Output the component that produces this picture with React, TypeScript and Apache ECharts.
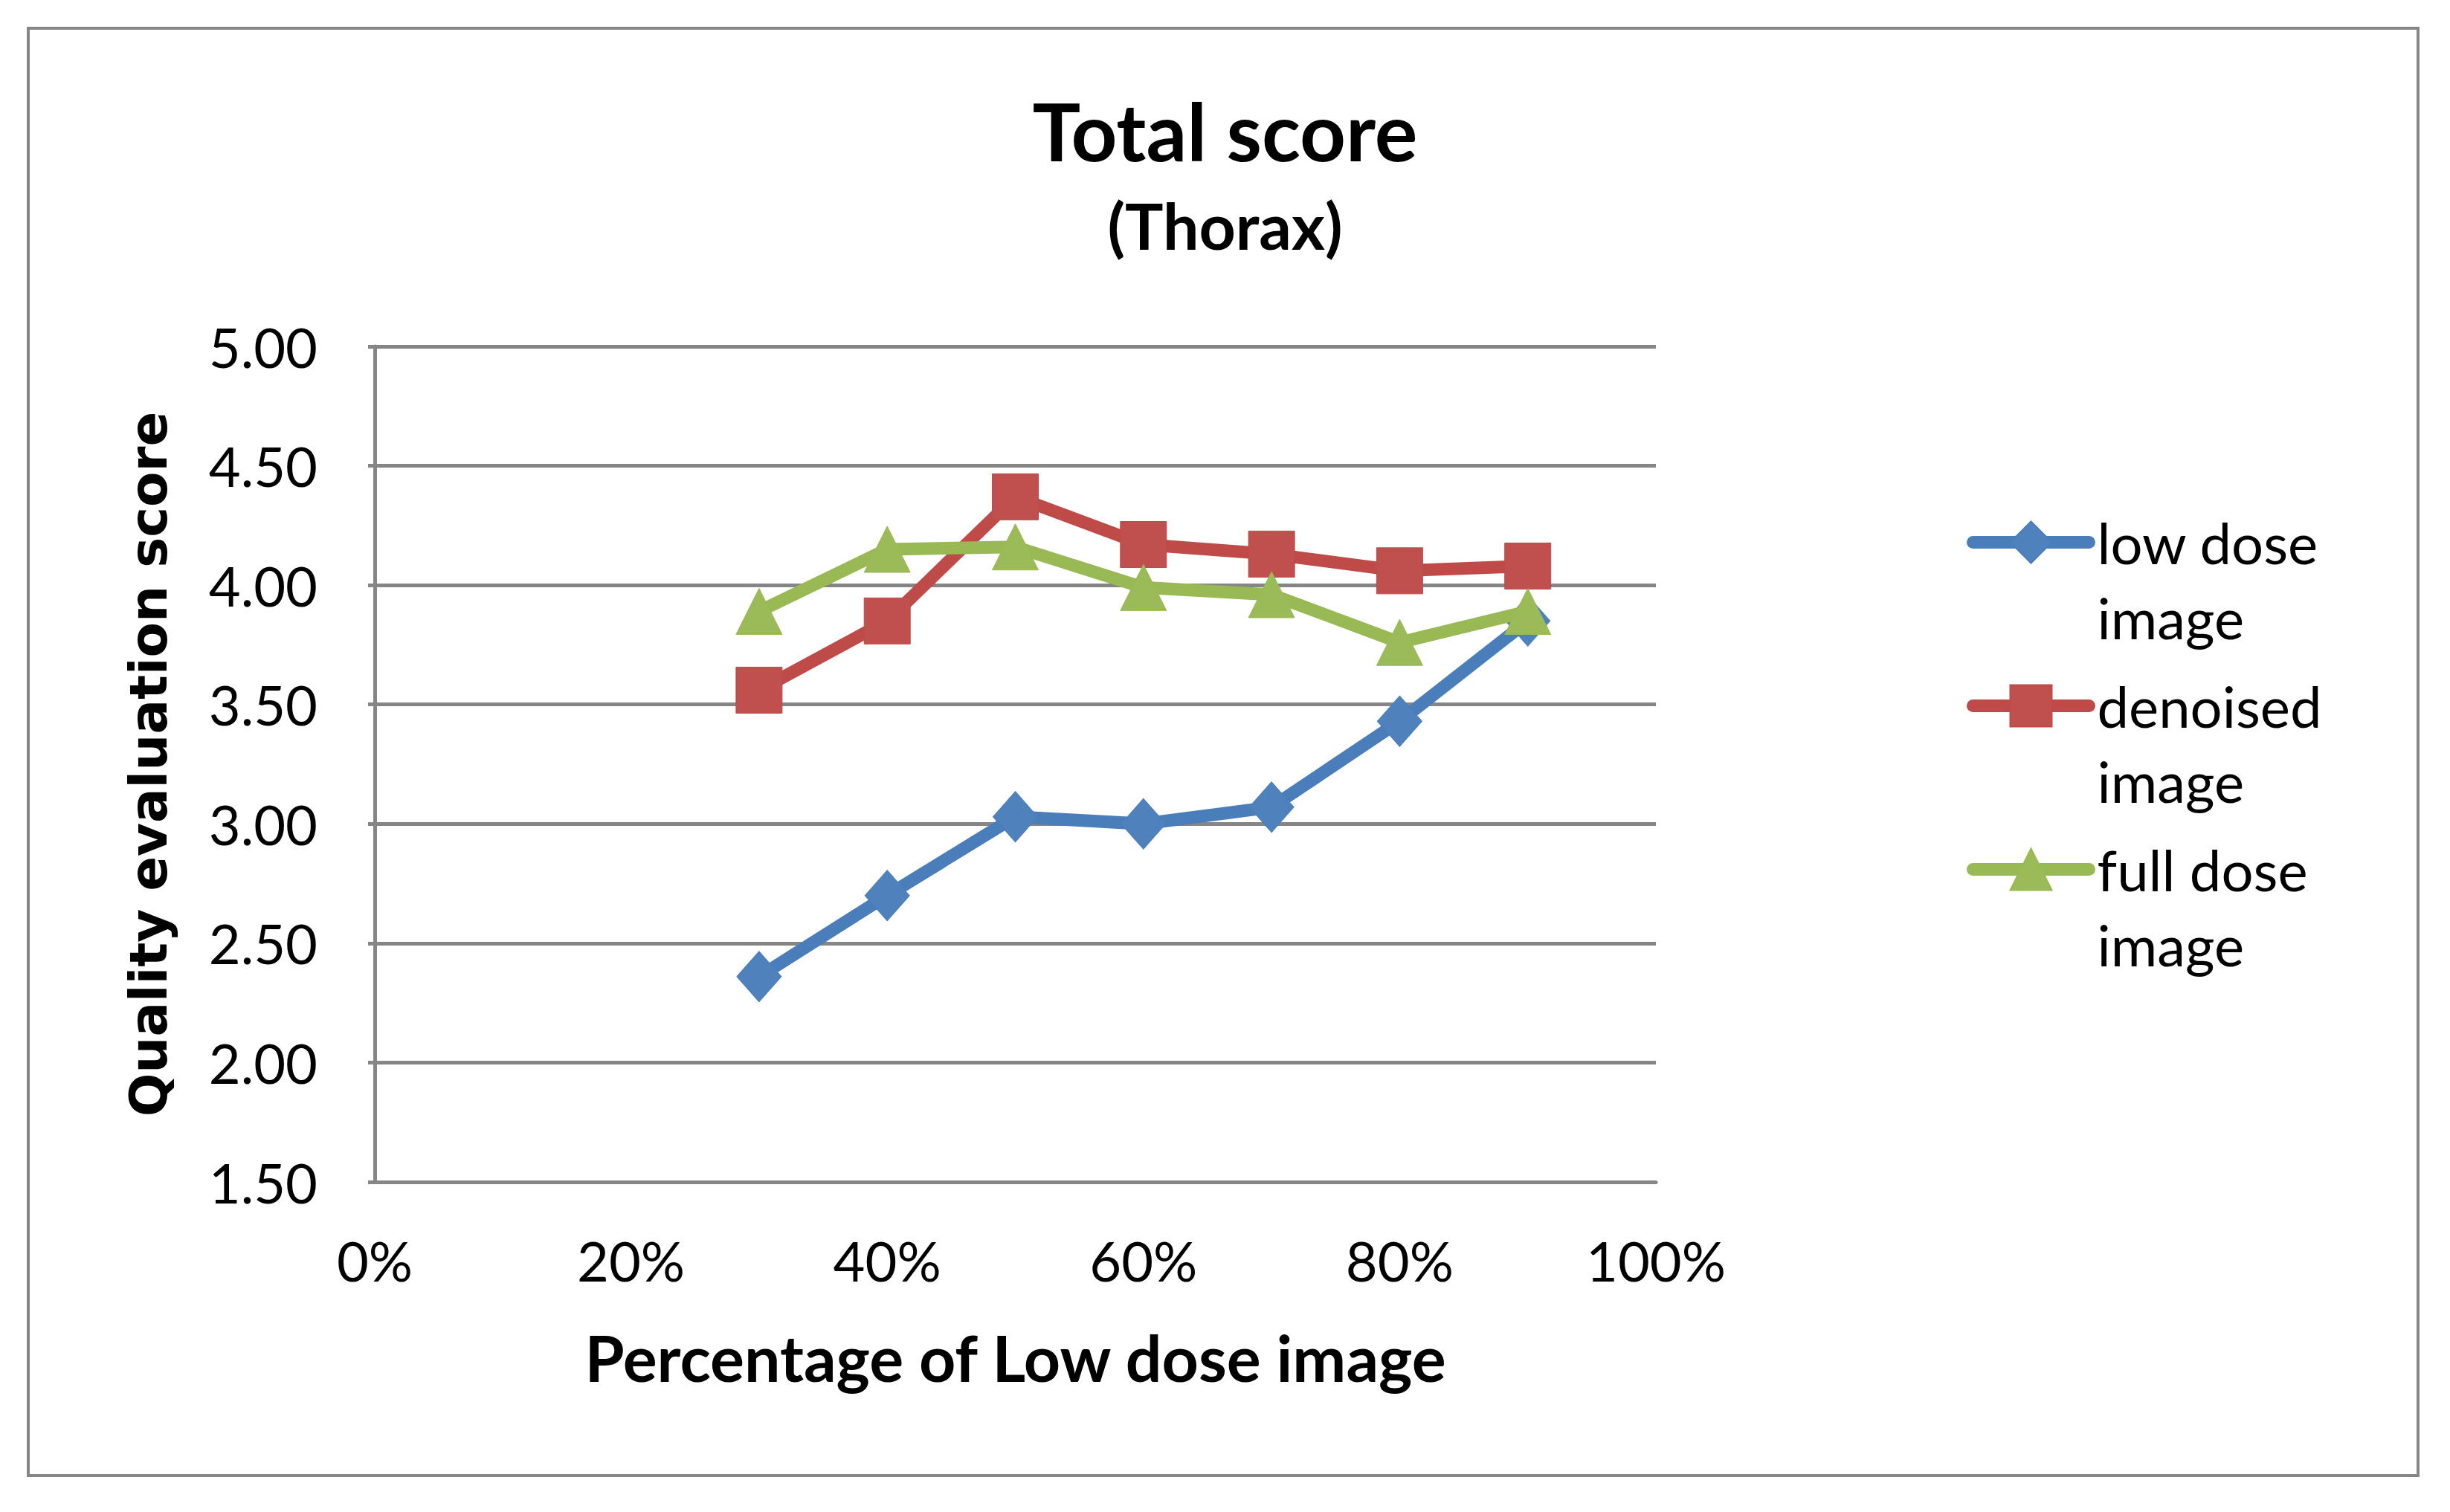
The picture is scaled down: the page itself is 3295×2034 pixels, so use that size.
import React, { useEffect, useRef } from "react";
import * as echarts from "echarts";

const percentages = [0.3, 0.4, 0.5, 0.6, 0.7, 0.8, 0.9];
const lowDose = [2.36, 2.7, 3.03, 3.0, 3.07, 3.43, 3.85];
const denoised = [3.56, 3.85, 4.37, 4.17, 4.13, 4.06, 4.08];
const fullDose = [3.89, 4.15, 4.16, 3.99, 3.96, 3.76, 3.89];
const seriesNames = ["low dose image", "denoised image", "full dose image"];
const seriesColors = ["#4A7EBB", "#BE4B48", "#98B954"];
const markerColors = ["#4F81BD", "#C0504D", "#9BBB59"];
const yTicks = { min: 1.5, max: 5, interval: 0.5 };
const xTicks = { min: 0, max: 1, interval: 0.2 };

const App: React.FC = () => {
  const ref = useRef<HTMLDivElement>(null);
  useEffect(() => {
    document.body.style.margin = "0";
    if (!ref.current) return;
    const chart = echarts.init(ref.current, undefined, { renderer: "svg" });
    const datasets = [lowDose, denoised, fullDose];
    const symbols = ["diamond", "rect", "triangle"];
    const sizes: any[] = [[60, 68], 62, [62, 62]];
    chart.setOption({
      animation: false,
      backgroundColor: "#ffffff",
      title: [
        {
          text: "Total score",
          left: "center",
          top: 121,
          padding: 0,
          textStyle: { fontFamily: "Lato", fontWeight: "bold", fontSize: 108, color: "#000" },
        },
        {
          text: "(Thorax)",
          left: "center",
          top: 259,
          padding: 0,
          textStyle: { fontFamily: "Lato", fontWeight: "bold", fontSize: 86, color: "#000" },
        },
      ],
      graphic: [
        {
          type: "rect",
          shape: { x: 38, y: 38, width: 3214, height: 1947 },
          style: { fill: "none", stroke: "#868686", lineWidth: 4 },
          silent: true,
        },
      ],
      grid: { left: 504, right: 1068, top: 466, bottom: 444, containLabel: false },
      legend: {
        orient: "vertical",
        left: 2645,
        top: 578,
        padding: 0,
        itemWidth: 156,
        itemHeight: 70,
        itemGap: -83,
        data: seriesNames,
        lineStyle: { width: 17, cap: "round" },
        formatter: (name: string) => "\u00a0\n" + name.replace(" image", "\nimage"),
        textStyle: {
          fontFamily: "Lato",
          fontSize: 76,
          lineHeight: 101,
          color: "#000",
          padding: [0, 0, 0, 6],
        },
      },
      xAxis: {
        type: "value",
        min: xTicks.min,
        max: xTicks.max,
        interval: xTicks.interval,
        name: "Percentage of Low dose image",
        nameLocation: "middle",
        nameGap: 192,
        nameTextStyle: { fontFamily: "Lato", fontWeight: "bold", fontSize: 86, color: "#000" },
        axisLine: { show: true, lineStyle: { color: "#868686", width: 5 } },
        axisTick: { show: false },
        splitLine: { show: false },
        axisLabel: {
          margin: 68,
          fontFamily: "Lato",
          fontSize: 74,
          color: "#000",
          formatter: (v: number) => Math.round(v * 100) + "%",
        },
      },
      yAxis: {
        type: "value",
        min: yTicks.min,
        max: yTicks.max,
        interval: yTicks.interval,
        name: "Quality evaluation score",
        nameLocation: "middle",
        nameGap: 270,
        nameTextStyle: { fontFamily: "DejaVu Sans", fontWeight: "bold", fontSize: 69, color: "#000" },
        axisLine: { show: true, lineStyle: { color: "#868686", width: 5 } },
        axisTick: { show: true, length: 9, lineStyle: { color: "#868686", width: 5 } },
        splitLine: { show: true, lineStyle: { color: "#868686", width: 5 } },
        axisLabel: {
          margin: 77,
          fontFamily: "Lato",
          fontSize: 74,
          color: "#000",
          formatter: (v: number) => v.toFixed(2),
        },
      },
      series: datasets.map((vals, i) => ({
        name: seriesNames[i],
        type: "line",
        data: percentages.map((x, j) => [x, vals[j]]),
        symbol: symbols[i],
        symbolSize: sizes[i],
        showSymbol: true,
        lineStyle: { width: 17, color: seriesColors[i], cap: "round", join: "round" },
        itemStyle: { color: markerColors[i], borderColor: seriesColors[i], borderWidth: 1 },
        z: 2 + i,
      })),
    });
    return () => chart.dispose();
  }, []);
  return <div ref={ref} style={{ width: 3295, height: 2034 }} />;
};

export default App;
